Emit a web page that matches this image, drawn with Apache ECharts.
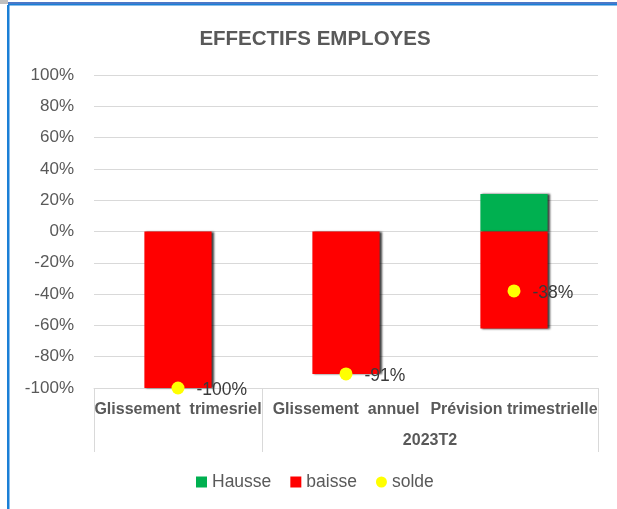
<!DOCTYPE html>
<html>
<head>
<meta charset="utf-8">
<script src="https://cdn.jsdelivr.net/npm/echarts@6/dist/echarts.min.js"></script>
<style>
html,body{margin:0;padding:0;background:#fff;}
#c{width:617px;height:509px;}
</style>
</head>
<body>
<div id="c"></div>
<script>
var categories = ['Glissement  trimesriel', 'Glissement  annuel', 'Prévision trimestrielle'];
var groupLabel = '2023T2';
var hausse = [0, 0, 24];
var baisse = [-100, -91, -62];
var solde = [-100, -91, -38];
var yTicks = [-100, -80, -60, -40, -20, 0, 20, 40, 60, 80, 100];

var FONT = '"Liberation Sans", Arial, sans-serif';
var chart = echarts.init(document.getElementById('c'), null, {renderer: 'canvas'});

var barShadow = {shadowColor: 'rgba(0,0,0,0.75)', shadowBlur: 2, shadowOffsetX: 2, shadowOffsetY: 0};

chart.setOption({
  animation: false,
  backgroundColor: '#fff',
  title: {
    text: 'EFFECTIFS EMPLOYES',
    left: 310, top: 24, textAlign: 'center',
    textStyle: {fontFamily: FONT, fontSize: 20.5, fontWeight: 'bold', color: '#595959'}
  },
  graphic: [
    {type: 'rect', shape: {x: 0, y: 0, width: 8, height: 4}, style: {fill: '#bfbfbf'}, silent: true},
    {type: 'rect', shape: {x: 8, y: 2, width: 609, height: 2}, style: {fill: '#4a78c8'}, silent: true},
    {type: 'rect', shape: {x: 8, y: 4, width: 609, height: 1.5}, style: {fill: '#1a7fd6'}, silent: true},
    {type: 'rect', shape: {x: 7, y: 5, width: 2.5, height: 504}, style: {fill: '#1a7fd6'}, silent: true}
  ],
  legend: {
    bottom: 13, left: 191,
    itemWidth: 11, itemHeight: 11, itemGap: 19,
    textStyle: {fontFamily: FONT, fontSize: 17.5, color: '#595959'},
    data: [
      {name: 'Hausse', icon: 'rect'},
      {name: 'baisse', icon: 'rect'},
      {name: 'solde', icon: 'circle'}
    ]
  },
  grid: {left: 94, right: 19, top: 75, bottom: 121, containLabel: false},
  xAxis: [
    {
      type: 'category',
      data: categories,
      boundaryGap: true,
      axisLine: {show: true, onZero: false, lineStyle: {color: '#d9d9d9', width: 1}},
      axisTick: {
        show: true, length: 64, alignWithLabel: false,
        interval: function (index) { return index !== 2; },
        lineStyle: {color: '#d9d9d9', width: 1}
      },
      axisLabel: {
        interval: 0, margin: 14,
        fontFamily: FONT, fontSize: 16, fontWeight: 'bold', color: '#595959'
      }
    },
    {
      type: 'value',
      position: 'bottom',
      min: 0, max: 3, interval: 1,
      axisLine: {show: false},
      axisTick: {show: false},
      splitLine: {show: false},
      axisLabel: {
        margin: 45,
        fontFamily: FONT, fontSize: 16, fontWeight: 'bold', color: '#595959',
        formatter: function (v) { return v === 2 ? groupLabel : ''; }
      }
    }
  ],
  yAxis: {
    type: 'value',
    min: yTicks[0], max: yTicks[yTicks.length - 1], interval: 20,
    axisLine: {show: false},
    axisTick: {show: false},
    splitLine: {lineStyle: {color: '#d9d9d9', width: 1}},
    axisLabel: {
      margin: 20,
      fontFamily: FONT, fontSize: 17, color: '#595959',
      formatter: '{value}%'
    }
  },
  series: [
    {
      name: 'Hausse', type: 'bar', stack: 'tot', xAxisIndex: 0,
      barCategoryGap: '60%',
      data: hausse.map(function (v) { return v === 0 ? null : v; }),
      itemStyle: Object.assign({color: '#00b050'}, barShadow)
    },
    {
      name: 'baisse', type: 'bar', stack: 'tot', xAxisIndex: 0,
      barCategoryGap: '60%',
      data: baisse,
      itemStyle: Object.assign({color: '#ff0000'}, barShadow)
    },
    {
      name: 'solde', type: 'scatter', xAxisIndex: 0,
      data: solde,
      symbol: 'circle', symbolSize: 13,
      z: 10,
      itemStyle: {color: '#ffff00', opacity: 1},
      label: {
        show: true, position: 'right', distance: 12, offset: [0, 2],
        fontFamily: FONT, fontSize: 17.5, color: '#3a3a3a',
        formatter: function (p) { return p.value + '%'; }
      }
    }
  ]
});
</script>
</body>
</html>
